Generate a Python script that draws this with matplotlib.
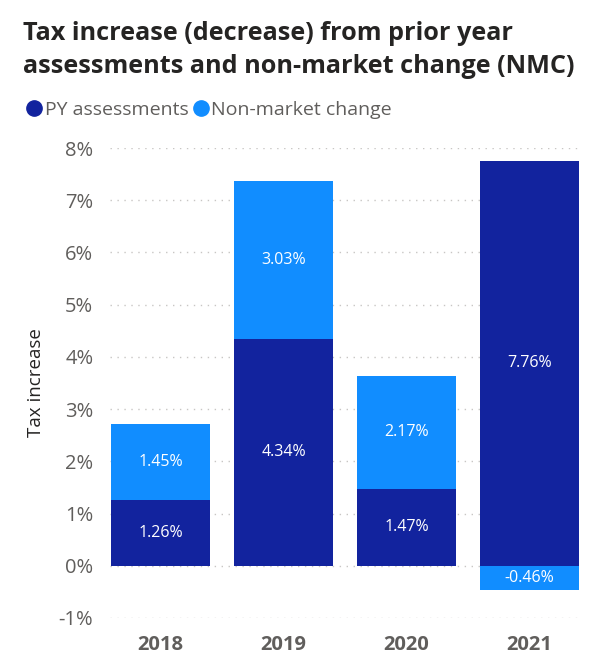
import matplotlib
matplotlib.use('Agg')
import matplotlib.pyplot as plt
import numpy as np
from matplotlib.lines import Line2D

years = ['2018', '2019', '2020', '2021']
py_assess = [1.26, 4.34, 1.47, 7.76]
nmc = [1.45, 3.03, 2.17, -0.46]
yticks = [-1, 0, 1, 2, 3, 4, 5, 6, 7, 8]

dark = '#12239E'
light = '#118DFF'
gray = '#605E5C'

plt.rcParams['font.family'] = ['Open Sans', 'DejaVu Sans']

fig = plt.figure(figsize=(6.06, 6.67), dpi=100)
ax = fig.add_axes([0.1815, 0.0735, 0.7755, 0.7045])

x = np.arange(len(years))
py = np.array(py_assess)
nm = np.array(nmc)
nm_bottom = np.where(nm >= 0, py, 0)

ax.bar(x, py, width=0.8, color=dark, zorder=3)
ax.bar(x, nm, width=0.8, bottom=nm_bottom, color=light, zorder=3)

for i in range(len(years)):
    ax.text(x[i], py[i] / 2, f'{py[i]:.2f}%', ha='center', va='center',
            color='white', fontsize=11.5, zorder=4)
    ax.text(x[i], nm_bottom[i] + nm[i] / 2, f'{nm[i]:.2f}%', ha='center',
            va='center', color='white', fontsize=11.5, zorder=4)

ax.set_xlim(-0.41, 3.41)
ax.set_ylim(-1, 8)
ax.set_yticks(yticks)
ax.set_yticklabels([f'{t}%' for t in yticks], color=gray, fontsize=14.5)
ax.set_xticks(x)
ax.set_xticklabels(years, color=gray, fontsize=14.5, fontweight='bold')
ax.tick_params(axis='x', length=0, pad=12)
ax.tick_params(axis='y', length=0, pad=12)
ax.grid(axis='y', linestyle=(0, (1, 4)), color='#C8C6C4', linewidth=1, zorder=0)
for s in ax.spines.values():
    s.set_visible(False)

ax.set_ylabel('Tax increase', fontsize=13.5, color='#252423', labelpad=10)

fig.text(0.038, 0.925, 'Tax increase (decrease) from prior year\nassessments and non-market change (NMC)',
         fontsize=18.2, fontweight='bold', color='#252423', va='center', linespacing=1.38)

handles = [Line2D([], [], marker='o', linestyle='', color=dark, markersize=11),
           Line2D([], [], marker='o', linestyle='', color=light, markersize=11)]
fig.legend(handles, ['PY assessments', 'Non-market change'], loc='center left',
           bbox_to_anchor=(0.012, 0.835), ncol=2, frameon=False, handletextpad=0.05,
           columnspacing=0.1, labelcolor=gray, prop={'size': 14}, handlelength=1.0)

plt.savefig('out.png', dpi=100)
